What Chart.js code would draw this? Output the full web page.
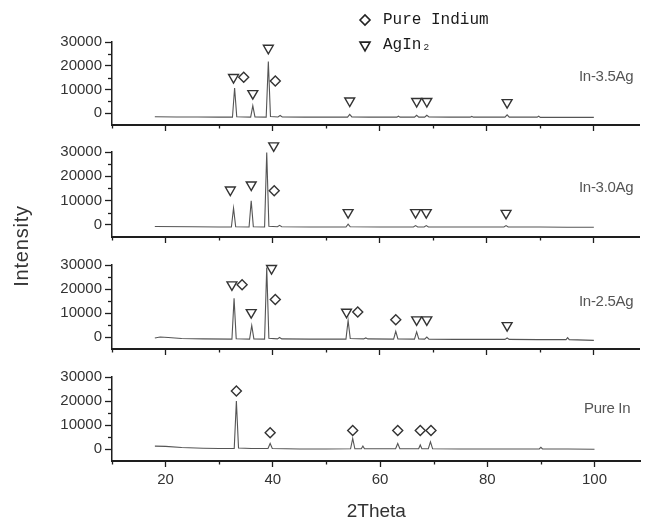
<!DOCTYPE html>
<html><head><meta charset="utf-8">
<script src="https://cdn.jsdelivr.net/npm/chart.js@4/dist/chart.umd.min.js"></script>
<style>
html,body{margin:0;padding:0;background:#fff;overflow:hidden;}
#wrap{position:relative;width:647px;height:519px;overflow:hidden;background:#fff;}
canvas{position:absolute;left:0;}
.lbl{position:absolute;font-family:"Liberation Sans",Arial,sans-serif;font-size:15px;color:#555;letter-spacing:-0.3px;white-space:nowrap;line-height:16px;}
#ylab{position:absolute;left:-29.5px;top:233.5px;width:100px;height:24px;line-height:24px;text-align:center;font-family:"Liberation Sans",Arial,sans-serif;font-size:20px;color:#333;letter-spacing:0.8px;white-space:nowrap;transform:rotate(-90deg);}
</style></head><body>
<div id="wrap">
  <canvas id="leg" width="320" height="70" style="left:346px;top:3px;"></canvas>
  <canvas id="c0"></canvas><canvas id="c1"></canvas><canvas id="c2"></canvas><canvas id="c3"></canvas>
  <div id="ylab">Intensity</div>
</div>
<script>
// ---------- axis ticks ----------
const X_MIN = 10, X_MAX = 108.6;
const Y_MIN = -5000, Y_MAX = 30000;
const X_MAJOR = [20, 40, 60, 80, 100];
const X_MINOR = [10, 30, 50, 70, 90];
const Y_MAJOR = [0, 10000, 20000, 30000];
const Y_MINOR = [5000, 15000, 25000];

// ---------- sample names ----------
const sampleNames = ['In-3.5Ag', 'In-3.0Ag', 'In-2.5Ag', 'Pure In'];
const legendNames = ['Pure Indium', 'AgIn\u2082'];

// ---------- traces [2theta, intensity] ----------
const trace35 = [[18,-1500],[22,-1600],[26,-1600],[30,-1700],[32.5,-1700],[32.9,10600],[33.3,-1500],[35.9,-1700],[36.3,3100],[36.7,-1600],[38.8,-1700],[39.2,21800],[39.6,-1400],[41.0,-1600],[41.4,-1000],[41.8,-1600],[46,-1700],[50,-1700],[54.0,-1700],[54.4,-500],[54.8,-1600],[58,-1700],[63.2,-1700],[63.5,-1300],[63.8,-1700],[66.5,-1700],[66.9,-900],[67.3,-1700],[68.4,-1700],[68.8,-900],[69.2,-1600],[73,-1700],[76.9,-1700],[77.2,-1400],[77.5,-1700],[80,-1700],[83.4,-1700],[83.8,-700],[84.2,-1700],[89.4,-1700],[89.7,-1300],[90.0,-1800],[94,-1800],[100,-1800]];
const trace30 = [[18,-700],[25,-800],[30,-900],[32.3,-900],[32.7,6900],[33.1,-800],[35.6,-900],[36.0,9900],[36.4,-800],[38.5,-900],[38.9,29800],[39.3,-600],[40.9,-800],[41.3,-200],[41.7,-800],[47,-900],[53.7,-900],[54.1,300],[54.5,-800],[60,-900],[66.3,-900],[66.7,-300],[67.1,-900],[68.3,-900],[68.7,-300],[69.1,-900],[75,-900],[83.2,-900],[83.6,-300],[84.0,-900],[90,-900],[95,-1000],[100,-1000]];
const trace25 = [[18,-400],[19,0],[20.5,-200],[23,-600],[27,-800],[32.4,-900],[32.8,16100],[33.2,-700],[35.7,-900],[36.1,4800],[36.5,-800],[38.5,-900],[38.9,29000],[39.3,-500],[40.9,-800],[41.3,-200],[41.7,-800],[47,-900],[53.7,-900],[54.1,6900],[54.5,-600],[57.0,-800],[57.4,-400],[57.8,-800],[62.6,-900],[63.0,2400],[63.4,-800],[66.5,-900],[66.9,2100],[67.3,-800],[68.4,-900],[68.8,0],[69.2,-900],[74,-1000],[80,-1000],[83.4,-1000],[83.8,-400],[84.2,-1000],[89.5,-1100],[94.8,-1100],[95.1,-300],[95.4,-1100],[100,-1400]];
const tracePure = [[18,1200],[20,1100],[23,600],[27,300],[30,200],[32.8,200],[33.2,20000],[33.6,400],[36,200],[39.1,200],[39.5,2300],[39.9,200],[45,0],[50,0],[54.5,100],[54.9,4400],[55.3,100],[56.5,100],[56.8,1200],[57.1,100],[62.9,100],[63.3,2300],[63.7,100],[67.2,100],[67.5,1700],[67.8,100],[69.0,100],[69.4,3000],[69.8,100],[75,0],[80,0],[89.7,0],[90.0,700],[90.3,0],[95,0],[100,-100]];

// ---------- peak markers [2theta, intensity] ----------
const agin2_35 = [[32.7,15100],[36.3,8300],[39.2,27400],[54.4,5200],[66.9,5000],[68.8,5000],[83.8,4500]];
const indium_35 = [[34.6,15100],[40.5,13600]];
const agin2_30 = [[32.1,14400],[36.0,16500],[40.2,32600],[54.1,5100],[66.7,5100],[68.7,5100],[83.6,4800]];
const indium_30 = [[40.3,14000]];
const agin2_25 = [[32.4,21800],[36.0,10200],[39.8,28600],[53.8,10400],[66.9,7200],[68.8,7200],[83.8,4800]];
const indium_25 = [[34.3,21800],[40.5,15600],[55.9,10400],[63.0,7200]];
const agin2_pure = [];
const indium_pure = [[33.2,24200],[39.5,6800],[54.9,7700],[63.3,7700],[67.5,7700],[69.5,7700]];

// ---------- layout (styling only) ----------
const PANEL_TOP = [42, 152, 265, 377];
const PANEL_BOTTOM = [125, 237, 349, 461];
const LABEL_POS = [[579, 68], [579, 179], [579, 293], [584, 399.5]];

const panels = [
  {trace: trace35, ag: agin2_35, ind: indium_35},
  {trace: trace30, ag: agin2_30, ind: indium_30},
  {trace: trace25, ag: agin2_25, ind: indium_25},
  {trace: tracePure, ag: agin2_pure, ind: indium_pure}
];

Chart.defaults.font.family = '"Liberation Sans", Arial, sans-serif';
const AX = '#1e1e1e';
const toXY = arr => arr.map(([x, y]) => ({x, y}));

const minorTicks = {
  id: 'minorTicks',
  afterDraw(chart) {
    const {ctx} = chart; const x = chart.scales.x, y = chart.scales.y;
    ctx.save(); ctx.strokeStyle = AX; ctx.lineWidth = 1.3;
    X_MINOR.forEach(v => { const px = Math.round(x.getPixelForValue(v)) + 0.5; ctx.beginPath(); ctx.moveTo(px, x.top); ctx.lineTo(px, x.top + 3.5); ctx.stroke(); });
    Y_MINOR.forEach(v => { const py = Math.round(y.getPixelForValue(v)) + 0.5; ctx.beginPath(); ctx.moveTo(y.right - 4, py); ctx.lineTo(y.right, py); ctx.stroke(); });
    ctx.restore();
  }
};

panels.forEach((p, i) => {
  const isBottom = i === panels.length - 1;
  const cv = document.getElementById('c' + i);
  const top = PANEL_TOP[i] - 30;
  const xH = isBottom ? 62 : 12;
  const h = (PANEL_BOTTOM[i] - PANEL_TOP[i]) + 30 + xH;
  cv.width = 647; cv.height = h; cv.style.top = top + 'px';
  new Chart(cv, {
    type: 'scatter',
    data: {datasets: [
      {type: 'line', data: toXY(p.trace), borderColor: '#555', borderWidth: 1.1, pointRadius: 0, tension: 0, order: 3, clip: false},
      {data: toXY(p.ag), pointStyle: 'triangle', rotation: 180, pointRadius: 5.7, borderColor: '#333', borderWidth: 1.4, backgroundColor: '#fff', clip: false, order: 1},
      {data: toXY(p.ind), pointStyle: 'rectRot', pointRadius: 5, borderColor: '#333', borderWidth: 1.4, backgroundColor: '#fff', clip: false, order: 2}
    ]},
    options: {
      responsive: false, animation: false, devicePixelRatio: 1, events: [],
      layout: {padding: {top: 30, left: 0, right: 0, bottom: 0}},
      plugins: {legend: {display: false}, tooltip: {enabled: false}},
      scales: {
        x: {
          type: 'linear', min: X_MIN, max: X_MAX,
          afterBuildTicks: s => { s.ticks = X_MAJOR.map(v => ({value: v})); },
          afterFit: s => { s.height = xH; },
          ticks: {display: isBottom, color: '#333', font: {size: 15}, padding: 4, callback: v => String(v)},
          grid: {display: true, drawOnChartArea: false, drawTicks: true, tickLength: 6, tickWidth: 1.3, tickColor: AX},
          border: {display: true, color: AX, width: 2},
          title: {display: isBottom, text: '2Theta', color: '#333', font: {size: 19}, padding: {top: 0, bottom: 0}}
        },
        y: {
          type: 'linear', min: Y_MIN, max: Y_MAX,
          afterBuildTicks: s => { s.ticks = Y_MAJOR.map(v => ({value: v})); },
          afterFit: s => { s.width = 112; },
          ticks: {color: '#333', font: {size: 15}, padding: 3, callback: v => String(v)},
          grid: {display: true, drawOnChartArea: false, drawTicks: true, tickLength: 7, tickWidth: 1.3, tickColor: AX},
          border: {display: true, color: AX, width: 1.5}
        }
      }
    },
    plugins: [minorTicks]
  });
  const d = document.createElement('div');
  d.className = 'lbl'; d.textContent = sampleNames[i];
  d.style.left = LABEL_POS[i][0] + 'px'; d.style.top = LABEL_POS[i][1] + 'px';
  document.getElementById('wrap').appendChild(d);
});

// ---------- legend ----------
function markerImage(style, radius, rotation) {
  const c = document.createElement('canvas'); c.width = 16; c.height = 16;
  const ctx = c.getContext('2d');
  ctx.strokeStyle = '#222'; ctx.fillStyle = '#fff'; ctx.lineWidth = 1.6;
  if (Chart.helpers && Chart.helpers.drawPoint) {
    Chart.helpers.drawPoint(ctx, {pointStyle: style, radius: radius, rotation: rotation, borderWidth: 1.6}, 8, 8);
  }
  return c;
}
new Chart(document.getElementById('leg'), {
  type: 'scatter',
  data: {datasets: [
    {label: legendNames[0], data: [], pointStyle: markerImage('rectRot', 5, 0)},
    {label: legendNames[1], data: [], pointStyle: markerImage('triangle', 5.8, 180)}
  ]},
  options: {
    responsive: false, animation: false, devicePixelRatio: 1, events: [],
    layout: {padding: 0},
    scales: {x: {display: false}, y: {display: false}},
    plugins: {
      tooltip: {enabled: false},
      legend: {position: 'left', align: 'start',
        labels: {usePointStyle: true, pointStyleWidth: 20, boxHeight: 16, padding: 9, color: '#1a1a1a',
          font: {family: '"Liberation Mono", "DejaVu Sans Mono", monospace', size: 16}}}
    }
  }
});
</script>
</body></html>
